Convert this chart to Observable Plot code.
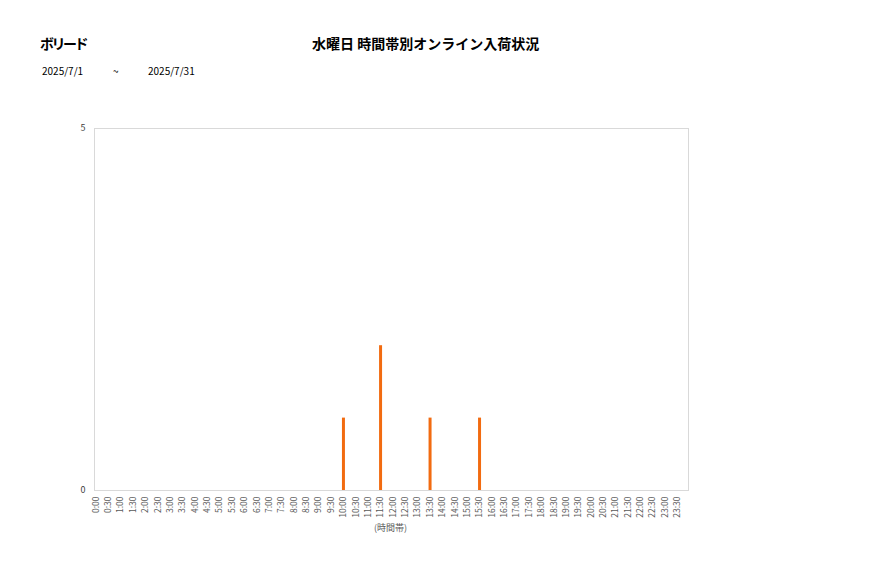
<!DOCTYPE html>
<html>
<head>
<meta charset="utf-8">
<script src="https://cdn.jsdelivr.net/npm/d3@7"></script>
<script src="https://cdn.jsdelivr.net/npm/@observablehq/plot@0.6"></script>
<style>
  html, body { margin: 0; padding: 0; background: #fff; }
  #wrap { position: relative; width: 877px; height: 578px; font-family: "Noto Sans CJK JP", "Noto Sans", sans-serif; }
  .t { position: absolute; white-space: nowrap; color: #000; }
</style>
</head>
<body>
<div id="wrap">
  <div class="t" style="left:40px; top:33px; font-size:14px; font-weight:bold; letter-spacing:-2.5px;">ボリード</div>
  <div class="t" style="left:312px; top:33px; font-size:14px; font-weight:bold;">水曜日 時間帯別オンライン入荷状況</div>
  <div class="t" style="left:42px; top:63px; font-size:10px;">2025/7/1</div>
  <div class="t" style="left:113px; top:63px; font-size:10px;">~</div>
  <div class="t" style="left:148px; top:63px; font-size:10px;">2025/7/31</div>
  <div class="t" style="left:374px; top:521px; font-size:9px; color:#595959;">(時間帯)</div>
  <div id="chart" style="position:absolute; left:0; top:0;"></div>
</div>
<script>
const timeSlots = ["0:00","0:30","1:00","1:30","2:00","2:30","3:00","3:30","4:00","4:30","5:00","5:30","6:00","6:30","7:00","7:30","8:00","8:30","9:00","9:30","10:00","10:30","11:00","11:30","12:00","12:30","13:00","13:30","14:00","14:30","15:00","15:30","16:00","16:30","17:00","17:30","18:00","18:30","19:00","19:30","20:00","20:30","21:00","21:30","22:00","22:30","23:00","23:30"];
const counts = [0,0,0,0,0,0,0,0,0,0,0,0,0,0,0,0,0,0,0,0,1,0,0,2,0,0,0,1,0,0,0,1,0,0,0,0,0,0,0,0,0,0,0,0,0,0,0,0];
const yTicks = [0, 5];

const data = timeSlots.map((t, i) => ({slot: t, value: counts[i]}));

const chart = Plot.plot({
  width: 877,
  height: 578,
  marginLeft: 94,
  marginRight: 189,
  marginTop: 128,
  marginBottom: 88,
  style: {fontFamily: "'Noto Sans CJK JP', 'Noto Sans', sans-serif", fontSize: "9px", color: "#595959", background: "transparent"},
  x: {type: "point", domain: timeSlots, range: [95.5, 677], padding: 0, round: false, label: null},
  y: {domain: [0, 5], ticks: yTicks, label: null},
  marks: [
    Plot.frame({stroke: "#d9d9d9"}),
    Plot.axisY({ticks: yTicks, tickFormat: "d", tickSize: 0, tickPadding: 9, fill: "#404040", fontSize: 9}),
    Plot.axisX({tickSize: 0, tickPadding: 6, tickRotate: -90, fill: "#595959", fontSize: 8.5, label: null}),
    Plot.ruleX(data.filter(d => d.value > 0), {x: "slot", y1: 0, y2: "value", stroke: "#f26b10", strokeWidth: 3})
  ]
});
document.getElementById("chart").appendChild(chart);
</script>
</body>
</html>
